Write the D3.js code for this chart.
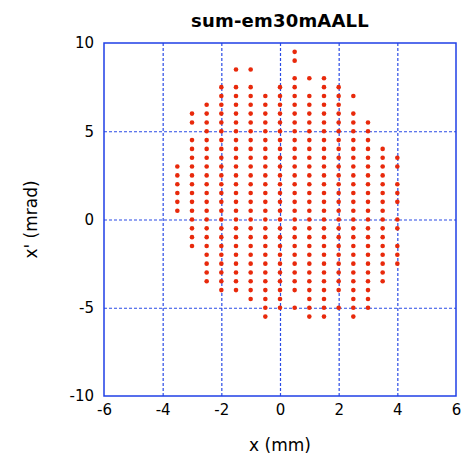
<!DOCTYPE html>
<html>
<head>
<meta charset="utf-8">
<script src="https://cdn.jsdelivr.net/npm/d3@7"></script>
<style>
  body { margin: 0; background: #fff; }
  text { font-family: "DejaVu Sans", "Liberation Sans", Arial, sans-serif; }
</style>
</head>
<body>
<script>
// x columns of the beam grid (mm) and the x' values (mrad) seen in each column
const columnX = [-3.5, -3, -2.5, -2, -1.5, -1, -0.5, 0, 0.5, 1, 1.5, 2, 2.5, 3, 3.5, 4];
const columnY = [
    [3, 2.5, 2, 1.5, 1, 0.5],
    [6, 5.5, 4.5, 4, 3.5, 3, 2.5, 2, 1.5, 1, 0.5, 0, -0.5, -1, -1.5],
    [6.5, 6, 5.5, 5, 4.5, 4, 3.5, 3, 2.5, 2, 1.5, 1, 0.5, 0, -0.5, -1, -1.5, -2, -2.5, -3, -3.5],
    [7.5, 7, 6.5, 6, 5.5, 5, 4.5, 4, 3.5, 3, 2.5, 2, 1.5, 1, 0.5, 0, -0.5, -1, -1.5, -2, -2.5, -3, -3.5, -4],
    [8.5, 7.5, 7, 6.5, 6, 5.5, 5, 4.5, 4, 3.5, 3, 2.5, 2, 1.5, 1, 0.5, 0, -0.5, -1, -1.5, -2, -2.5, -3, -3.5, -4],
    [8.5, 7.5, 7, 6.5, 6, 5.5, 5, 4.5, 4, 3.5, 3, 2.5, 2, 1.5, 1, 0.5, 0, -0.5, -1, -1.5, -2, -2.5, -3, -3.5, -4, -4.5],
    [7, 6.5, 6, 5.5, 5, 4.5, 4, 3.5, 3, 2.5, 2, 1.5, 1, 0.5, 0, -0.5, -1, -1.5, -2, -2.5, -3, -3.5, -4, -4.5, -5, -5.5],
    [7.5, 7, 6.5, 6, 5.5, 5, 4.5, 4, 3.5, 3, 2.5, 2, 1.5, 1, 0.5, 0, -0.5, -1, -1.5, -2, -2.5, -3, -3.5, -4, -4.5, -5],
    [9.5, 9, 8, 7.5, 7, 6.5, 6, 5.5, 5, 4.5, 4, 3.5, 3, 2.5, 2, 1.5, 1, 0.5, 0, -0.5, -1, -1.5, -2, -2.5, -3, -3.5, -4, -5],
    [8, 7, 6.5, 6, 5.5, 5, 4.5, 4, 3.5, 3, 2.5, 2, 1.5, 1, 0.5, 0, -0.5, -1, -1.5, -2, -2.5, -3, -3.5, -4, -4.5, -5, -5.5],
    [8, 7.5, 7, 6.5, 6, 5.5, 5, 4.5, 4, 3.5, 3, 2.5, 2, 1.5, 1, 0.5, 0, -0.5, -1, -1.5, -2, -2.5, -3, -3.5, -4, -4.5, -5, -5.5],
    [7.5, 7, 6.5, 6, 5.5, 5, 4.5, 4, 3.5, 3, 2.5, 2, 1.5, 1, 0.5, 0, -0.5, -1, -1.5, -2, -2.5, -3, -3.5, -4, -5],
    [7, 6, 5.5, 5, 4.5, 4, 3.5, 3, 2.5, 2, 1.5, 1, 0.5, 0, -0.5, -1, -1.5, -2, -2.5, -3, -3.5, -4, -4.5, -5, -5.5],
    [5.5, 5, 4.5, 4, 3.5, 3, 2.5, 2, 1.5, 1, 0.5, 0, -0.5, -1, -1.5, -2, -2.5, -3, -3.5, -4, -4.5, -5],
    [4, 3.5, 3, 2.5, 2, 1.5, 1, 0.5, 0, -0.5, -1, -1.5, -2, -2.5, -3, -3.5],
    [3.5, 3, 2, 1.5, 1, 0, -0.5, -1.5, -2, -2.5]
];
const xTicks = [-6, -4, -2, 0, 2, 4, 6];
const yTicks = [-10, -5, 0, 5, 10];

function main() {
    const canvasWidth = 462;
    const canvasHeight = 461;
    const margin = { left: 104, right: 6, top: 43, bottom: 65 };

    const svg = d3.select("body").append("svg")
        .attr("width", canvasWidth)
        .attr("height", canvasHeight);

    const width = canvasWidth - margin.left - margin.right;
    const height = canvasHeight - margin.top - margin.bottom;

    const x = d3.scaleLinear().domain([-6, 6]).range([0, width]);
    const y = d3.scaleLinear().domain([-10, 10]).range([height, 0]);

    const g = svg.append("g")
        .attr("transform", "translate(" + margin.left + "," + margin.top + ")");

    // dotted grid
    g.append("g")
        .attr("class", "grid")
        .call(d3.axisBottom(x).tickValues(xTicks.slice(1, -1)).tickSize(height).tickFormat(""))
        .call(gr => gr.select(".domain").remove());
    g.append("g")
        .attr("class", "grid")
        .call(d3.axisLeft(y).tickValues(yTicks.slice(1, -1)).tickSize(-width).tickFormat(""))
        .call(gr => gr.select(".domain").remove());
    g.selectAll(".grid line")
        .attr("stroke", "#2a4be6")
        .attr("stroke-width", 1.2)
        .attr("stroke-dasharray", "3,2");

    // points
    const points = [];
    columnX.forEach((cx, i) => {
        columnY[i].forEach(v => points.push({ x: cx, y: v }));
    });
    g.selectAll(".pt")
        .data(points)
        .enter()
        .append("circle")
        .attr("class", "pt")
        .attr("cx", d => x(d.x))
        .attr("cy", d => y(d.y))
        .attr("r", 2.3)
        .attr("fill", "#e8290b");

    // frame
    g.append("rect")
        .attr("width", width)
        .attr("height", height)
        .attr("fill", "none")
        .attr("stroke", "#1f3fe6")
        .attr("stroke-width", 1.5);

    // tick labels (plain hyphen for negatives)
    const fmt = d => String(d);
    const xAxis = g.append("g")
        .attr("transform", "translate(0," + height + ")")
        .call(d3.axisBottom(x).tickValues(xTicks).tickFormat(fmt).tickSize(0).tickPadding(8));
    const yAxis = g.append("g")
        .call(d3.axisLeft(y).tickValues(yTicks).tickFormat(fmt).tickSize(0).tickPadding(10));
    [xAxis, yAxis].forEach(a => {
        a.select(".domain").remove();
        a.selectAll("text")
            .attr("font-family", "DejaVu Sans, Liberation Sans, Arial, sans-serif")
            .attr("font-size", 15)
            .attr("fill", "#000");
    });

    // titles
    svg.append("text")
        .attr("x", margin.left + width / 2)
        .attr("y", 27)
        .attr("text-anchor", "middle")
        .attr("font-size", 18)
        .attr("font-weight", "bold")
        .attr("letter-spacing", 0.2)
        .text("sum-em30mAALL");

    svg.append("text")
        .attr("x", margin.left + width / 2)
        .attr("y", 451)
        .attr("text-anchor", "middle")
        .attr("font-size", 17)
        .text("x (mm)");

    svg.append("text")
        .attr("transform", "translate(37," + (margin.top + height / 2) + ") rotate(-90)")
        .attr("text-anchor", "middle")
        .attr("font-size", 17)
        .text("x' (mrad)");
}
main();
</script>
</body>
</html>
